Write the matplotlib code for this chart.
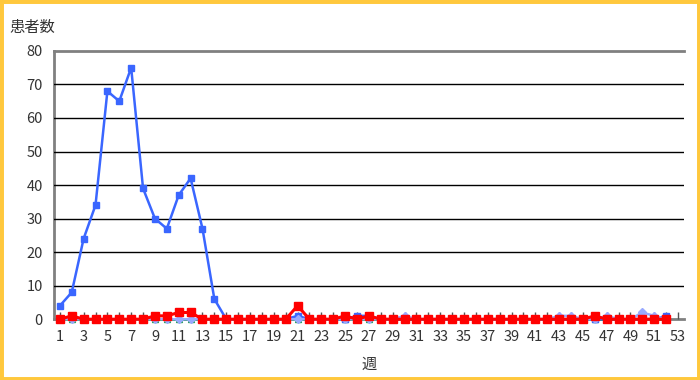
import matplotlib
matplotlib.use("Agg")
import matplotlib.pyplot as plt
from matplotlib.patches import Rectangle

plt.rcParams['font.family'] = ['Noto Sans CJK JP', 'DejaVu Sans']

weeks = list(range(1, 53))

# 患者数 per week, four series
blue = [4, 8, 24, 34, 68, 65, 75, 39, 30, 27, 37, 42, 27, 6, 0, 0, 0, 0, 0, 0,
        1, 0, 0, 0, 0, 1, 1, 0, 0, 0, 0, 0, 0, 0, 0, 0, 0, 0, 0, 0,
        0, 0, 0, 0, 0, 0, 0, 0, 0, 0, 0, 1]
lightblue = [0, 0, 0, 0, 0, 0, 0, 0, 0, 0, 0, 0, 0, 0, 0, 0, 0, 0, 0, 0,
             0, 0, 0, 0, 0, 0, 0, 0, 0, 1, 0, 0, 0, 0, 0, 0, 0, 0, 0, 0,
             0, 0, 1, 1, 0, 0, 1, 0, 0, 2, 1, 0]
green = [0] * 52
red = [0, 1, 0, 0, 0, 0, 0, 0, 1, 1, 2, 2, 0, 0, 0, 0, 0, 0, 0, 0,
       4, 0, 0, 0, 1, 0, 1, 0, 0, 0, 0, 0, 0, 0, 0, 0, 0, 0, 0, 0,
       0, 0, 0, 0, 0, 1, 0, 0, 0, 0, 0, 0]

yticks = list(range(0, 81, 10))

fig = plt.figure(figsize=(7, 3.8), dpi=100)
ax = fig.add_axes([0.077, 0.16, 0.9, 0.706])

for y in yticks[1:-1]:
    ax.axhline(y, color='black', lw=1.0, zorder=1)

series = [
    (blue, '#3a66ff', 's', 5, 1.8, 3),
    (lightblue, '#99aaff', 'D', 4, 1.8, 4),
    (green, '#1a9a50', '^', 5, 1.8, 2),
    (red, '#ff0000', 's', 5.5, 2.2, 5),
]
for vals, c, m, ms, lw, z in series:
    ax.plot(weeks, vals, color=c, lw=lw, marker=m, ms=ms, zorder=z, clip_on=False)

ax.set_xlim(0.5, 53.5)
ax.set_ylim(0, 80)
ax.set_yticks(yticks)
ax.set_xticks(range(1, 54))
ax.set_xticklabels([str(w) if w % 2 == 1 else '' for w in range(1, 54)])
ax.tick_params(axis='x', direction='in', length=5, color='#555555', width=1,
               labelsize=10.5, labelcolor='#333333', pad=8)
ax.tick_params(axis='y', length=0, labelsize=10.5, labelcolor='#333333', pad=8)
for s in ['left', 'bottom', 'top']:
    ax.spines[s].set_color('#808080')
    ax.spines[s].set_linewidth(2)
    ax.spines[s].set_zorder(0.5)
ax.spines['right'].set_visible(False)

ax.set_xlabel('週', fontsize=11, color='#333333', labelpad=8)
fig.text(0.014, 0.915, '患者数', fontsize=11, color='#333333')

fig.patches.append(Rectangle((0, 0), 1, 1, transform=fig.transFigure,
                             fill=False, edgecolor='#ffc83d', lw=5))

fig.savefig('out.png', dpi=100)
